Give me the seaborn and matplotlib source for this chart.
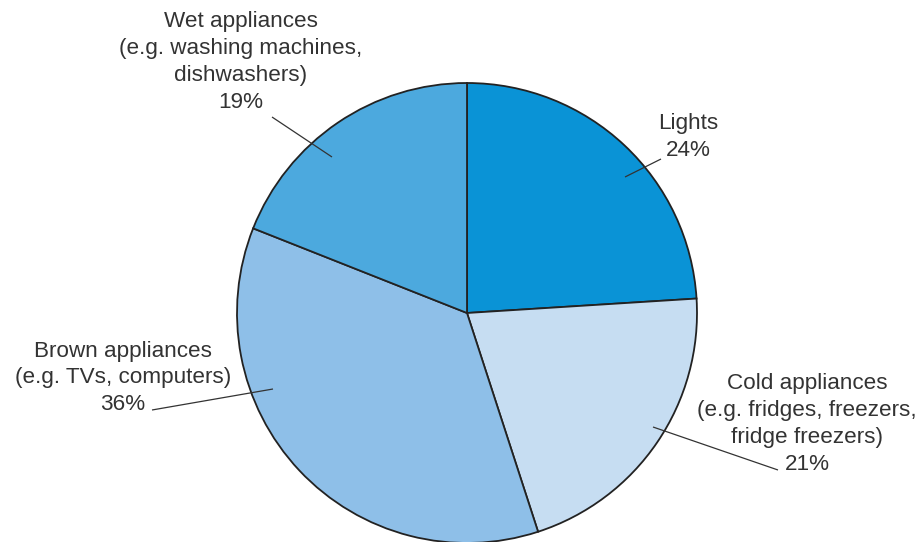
import matplotlib
matplotlib.use("Agg")
import matplotlib.pyplot as plt
import seaborn as sns

sns.set_theme(style="white")
plt.rcParams["font.family"] = ["Liberation Sans", "DejaVu Sans"]

categories = ["Lights", "Cold appliances", "Brown appliances", "Wet appliances"]
notes = ["", "(e.g. fridges, freezers,\nfridge freezers)", "(e.g. TVs, computers)",
         "(e.g. washing machines,\ndishwashers)"]
shares = [24, 21, 36, 19]
colors = ["#0A93D6", "#C6DDF2", "#8EBFE8", "#4CA9DE"]

W, H = 922, 542
fig = plt.figure(figsize=(W / 100, H / 100), dpi=100)
ax = fig.add_axes([0, 0, 1, 1])

cx, cy, r = 467, H - 313, 230
ax.pie(shares, colors=colors, startangle=90, counterclock=False,
       center=(cx, cy), radius=r, frame=True,
       wedgeprops=dict(edgecolor="#222222", linewidth=1.3))
ax.set_xlim(0, W)
ax.set_ylim(0, H)
ax.set_aspect("equal")
ax.axis("off")

# label blocks: centre (x, y) in pixels measured from the top edge
label_pos = {
    "Lights": (688, 137),
    "Cold appliances": (807, 424),
    "Brown appliances": (123, 378),
    "Wet appliances": (241, 62),
}
leaders = {
    "Lights": ((661, 159), (625, 177)),
    "Cold appliances": ((778, 470), (653, 427)),
    "Brown appliances": ((152, 410), (273, 389)),
    "Wet appliances": ((272, 117), (332, 157)),
}

for cat, note, pct in zip(categories, notes, shares):
    lines = [cat] + ([note] if note else []) + [f"{pct}%"]
    x, y = label_pos[cat]
    ax.text(x, H - y, "\n".join(lines), ha="center", va="center",
            multialignment="center", fontsize=16.2, color="#333333",
            linespacing=1.36)
    (x0, y0), (x1, y1) = leaders[cat]
    ax.plot([x0, x1], [H - y0, H - y1], color="#333333", lw=0.9,
            solid_capstyle="butt")

fig.savefig("out.png", dpi=100)
